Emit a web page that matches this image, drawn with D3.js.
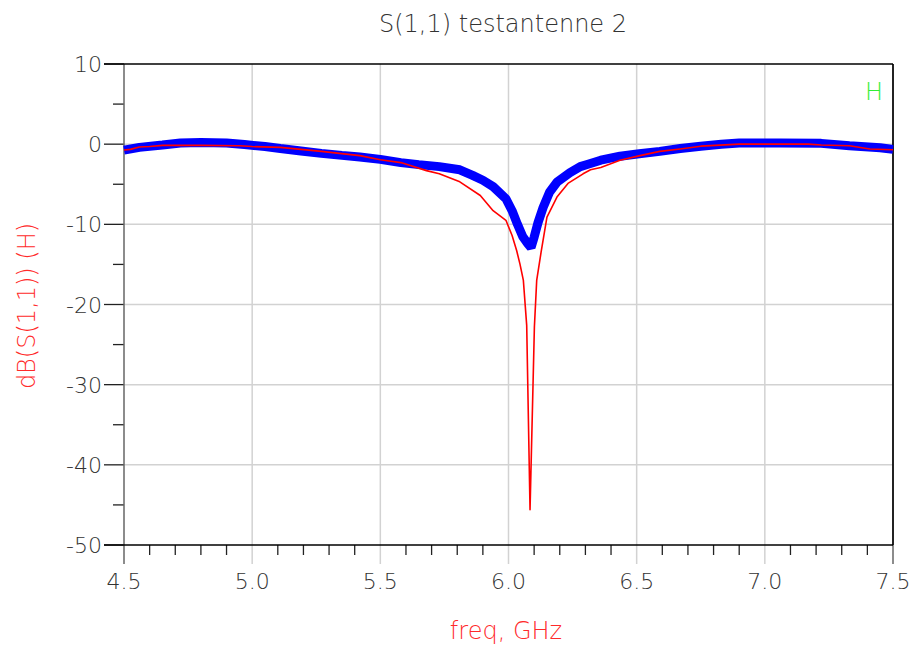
<!DOCTYPE html>
<html>
<head>
<meta charset="utf-8">
<script src="https://cdn.jsdelivr.net/npm/d3@7/dist/d3.min.js"></script>
<style>
  html, body { margin: 0; padding: 0; background: #fff; }
  svg text { font-family: "DejaVu Sans", sans-serif; font-weight: 200; }
</style>
</head>
<body>
<svg id="chart" width="916" height="653"></svg>
<script>
// Measured S11 of test antenna 2 (red) and the second trace (blue, marker style)
const freqRed = [4.50, 4.525, 4.56, 4.60, 4.65, 4.80, 4.95, 5.00, 5.11, 5.27, 5.42, 5.50, 5.58, 5.68, 5.73, 5.81, 5.89, 5.94, 5.99, 6.014, 6.032, 6.045, 6.058, 6.071, 6.084, 6.101, 6.110, 6.127, 6.150, 6.189, 6.232, 6.291, 6.32, 6.36, 6.435, 6.513, 6.59, 6.67, 6.75, 6.90, 7.06, 7.17, 7.22, 7.33, 7.41, 7.50];
const dbRed   = [-0.72, -0.65, -0.35, -0.3, -0.15, -0.15, -0.2, -0.3, -0.4, -0.9, -1.43, -1.95, -2.3, -3.3, -3.7, -4.7, -6.4, -8.3, -9.5, -11.4, -13.3, -15.0, -17.0, -22.6, -45.6, -22.8, -17.0, -13.5, -9.1, -6.6, -4.9, -3.7, -3.2, -2.9, -2.0, -1.43, -0.9, -0.6, -0.25, 0.0, 0.0, 0.0, -0.1, -0.2, -0.6, -0.7];

const freqBlue = [4.50, 4.56, 4.65, 4.72, 4.80, 4.90, 4.97, 5.05, 5.11, 5.19, 5.27, 5.35, 5.42, 5.50, 5.58, 5.65, 5.73, 5.81, 5.86, 5.90, 5.94, 5.99, 6.014, 6.035, 6.055, 6.075, 6.088, 6.10, 6.115, 6.135, 6.16, 6.189, 6.24, 6.28, 6.31, 6.36, 6.435, 6.51, 6.59, 6.67, 6.75, 6.83, 6.90, 7.06, 7.22, 7.33, 7.45, 7.50];
const dbBlue   = [-0.75, -0.4, -0.1, 0.15, 0.2, 0.15, -0.05, -0.3, -0.55, -0.85, -1.15, -1.4, -1.6, -1.9, -2.3, -2.55, -2.8, -3.2, -3.9, -4.5, -5.3, -6.8, -8.3, -10.0, -11.5, -12.4, -12.9, -11.6, -9.8, -7.9, -6.0, -4.75, -3.55, -2.8, -2.5, -2.0, -1.5, -1.2, -0.9, -0.55, -0.25, 0.0, 0.15, 0.15, 0.1, -0.2, -0.45, -0.65];

const xMajor = [4.5, 5.0, 5.5, 6.0, 6.5, 7.0, 7.5];
const xTickLabels = ["4.5", "5.0", "5.5", "6.0", "6.5", "7.0", "7.5"];
const yMajor = [10, 0, -10, -20, -30, -40, -50];
const yTickLabels = ["10", "0", "-10", "-20", "-30", "-40", "-50"];

const svg = d3.select("#chart");
const L = 124, R = 893, T = 64, B = 545;

const x = d3.scaleLinear().domain([4.5, 7.5]).range([L, R]);
const y = d3.scaleLinear().domain([-50, 10]).range([B, T]);

// grid
const grid = svg.append("g");
grid.selectAll("line.gx").data(xMajor.slice(1, -1)).join("line")
  .attr("x1", d => x(d)).attr("x2", d => x(d)).attr("y1", T).attr("y2", B + 19)
  .attr("stroke", "#d2d2d2").attr("stroke-width", 1.5);
grid.selectAll("line.gy").data(yMajor.slice(1, -1)).join("line")
  .attr("x1", L).attr("x2", R).attr("y1", d => y(d)).attr("y2", d => y(d))
  .attr("stroke", "#d2d2d2").attr("stroke-width", 1.5);

// minor ticks
const xMinor = d3.range(45, 76).map(v => v / 10).filter(v => Math.abs(v * 2 - Math.round(v * 2)) > 1e-6);
svg.append("g").selectAll("line").data(xMinor).join("line")
  .attr("x1", d => x(d)).attr("x2", d => x(d)).attr("y1", B).attr("y2", B + 10)
  .attr("stroke", "#222").attr("stroke-width", 1.3);
const yMinor = d3.range(-45, 10, 10);
svg.append("g").selectAll("line").data(yMinor).join("line")
  .attr("x1", L - 11).attr("x2", L).attr("y1", d => y(d)).attr("y2", d => y(d))
  .attr("stroke", "#222").attr("stroke-width", 1.3);

// major ticks
svg.append("g").selectAll("line").data(yMajor).join("line")
  .attr("x1", L - 20).attr("x2", L).attr("y1", d => y(d)).attr("y2", d => y(d))
  .attr("stroke", "#222").attr("stroke-width", 1.3);
svg.append("line").attr("x1", L).attr("x2", L).attr("y1", T).attr("y2", B + 19)
  .attr("stroke", "#666").attr("stroke-width", 1.5);
svg.append("line").attr("x1", R).attr("x2", R).attr("y1", T).attr("y2", B + 19)
  .attr("stroke", "#666").attr("stroke-width", 1.5);

// frame
svg.append("line").attr("x1", L - 20).attr("x2", R).attr("y1", T).attr("y2", T).attr("stroke", "#000").attr("stroke-width", 1.5);
svg.append("line").attr("x1", R).attr("x2", R).attr("y1", T).attr("y2", B).attr("stroke", "#000").attr("stroke-width", 1.5);
svg.append("line").attr("x1", L - 20).attr("x2", R).attr("y1", B).attr("y2", B).attr("stroke", "#000").attr("stroke-width", 1.5);

// tick labels
svg.append("g").selectAll("text").data(xMajor).join("text")
  .attr("x", d => x(d)).attr("y", B + 44)
  .attr("text-anchor", "middle").attr("font-size", 22).attr("fill", "#333")
  .text((d, i) => xTickLabels[i]);
svg.append("g").selectAll("text").data(yMajor).join("text")
  .attr("x", L - 22).attr("y", d => y(d) + 8)
  .attr("text-anchor", "end").attr("font-size", 22).attr("fill", "#333")
  .text((d, i) => yTickLabels[i]);

// traces
const line = d3.line().x(d => x(d[0])).y(d => y(d[1]));
const plot = svg.append("g");
plot.append("path").datum(d3.zip(freqBlue, dbBlue))
  .attr("d", line).attr("fill", "none").attr("stroke", "#0000ff")
  .attr("stroke-width", 9).attr("stroke-linejoin", "bevel");
plot.append("path").datum(d3.zip(freqRed, dbRed))
  .attr("d", line).attr("fill", "none").attr("stroke", "#ff0000")
  .attr("stroke-width", 1.6).attr("stroke-linejoin", "round");

// titles
svg.append("text").attr("x", 503).attr("y", 32).attr("text-anchor", "middle")
  .attr("font-size", 24).attr("fill", "#333").text("S(1,1) testantenne 2");
svg.append("text").attr("x", 506).attr("y", 639).attr("text-anchor", "middle")
  .attr("font-size", 24).attr("fill", "#ff2a2a").text("freq, GHz");
svg.append("text").attr("transform", "translate(35,306) rotate(-90)").attr("text-anchor", "middle")
  .attr("font-size", 24).attr("fill", "#ff2a2a").text("dB(S(1,1))  (H)");
svg.append("text").attr("x", 874).attr("y", 100).attr("text-anchor", "middle")
  .attr("font-size", 24).attr("fill", "#33ee33").text("H");
</script>
</body>
</html>
